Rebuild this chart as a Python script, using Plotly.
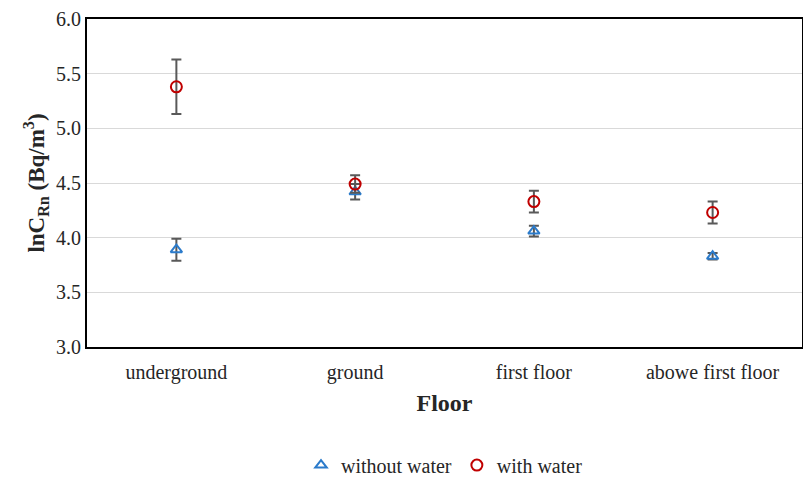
import plotly.graph_objects as go

floors = ["underground", "ground", "first floor", "abowe first floor"]
without_water = [3.89, 4.42, 4.06, 3.83]
without_err = [0.10, 0.07, 0.05, 0.03]
with_water = [5.38, 4.49, 4.33, 4.23]
with_err = [0.25, 0.08, 0.10, 0.10]
y_ticks = [3.0, 3.5, 4.0, 4.5, 5.0, 5.5, 6.0]

FONT = "Liberation Serif"
ERR_COLOR = "#595959"
TXT = "#262626"

fig = go.Figure()
fig.add_trace(go.Scatter(
    x=floors, y=without_water, mode="markers", name="without water",
    marker=dict(symbol="triangle-up-open", size=10, color="#2B7BCB", line=dict(width=2)),
    error_y=dict(type="data", array=without_err, color=ERR_COLOR, thickness=2, width=5),
))
fig.add_trace(go.Scatter(
    x=floors, y=with_water, mode="markers", name="with water",
    marker=dict(symbol="circle-open", size=11, color="#C00000", line=dict(width=2)),
    error_y=dict(type="data", array=with_err, color=ERR_COLOR, thickness=2, width=5),
))

fig.update_layout(
    width=803, height=486,
    margin=dict(l=87, r=1, t=19, b=112),
    plot_bgcolor="white", paper_bgcolor="white",
    font=dict(family=FONT, size=20, color=TXT),
    showlegend=True,
    legend=dict(orientation="h", x=0.5, xanchor="center", y=-0.36, yanchor="middle",
                font=dict(family=FONT, size=20, color=TXT), itemwidth=30),
    xaxis=dict(
        range=[-0.5, 3.5], showline=True, linecolor="black", linewidth=2, mirror=True,
        ticks="", showgrid=False, automargin=False, ticklabelstandoff=6,
        tickfont=dict(family=FONT, size=20, color=TXT),
        title=dict(text="<b>Floor</b>", font=dict(family=FONT, size=24, color=TXT), standoff=11),
    ),
    yaxis=dict(
        range=[3.0, 6.0], tickvals=y_ticks, tickformat=".1f", automargin=False,
        showline=True, linecolor="black", linewidth=2, mirror=True,
        showgrid=True, gridcolor="#D9D9D9", gridwidth=1, zeroline=False, ticks="",
        tickfont=dict(family=FONT, size=20, color=TXT),
        title=dict(text="<b>lnC<sub>Rn</sub> (Bq/m<sup>3</sup>)</b>",
                   font=dict(family=FONT, size=23, color=TXT), standoff=5),
    ),
)

fig.write_html("out.html", config={"displayModeBar": False},
               post_script="document.body.style.margin='0';")
